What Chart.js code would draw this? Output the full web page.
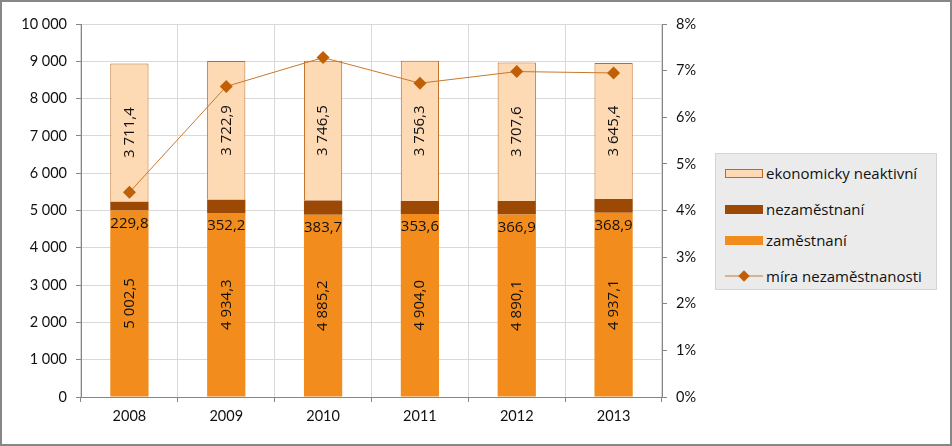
<!DOCTYPE html>
<html>
<head>
<meta charset="utf-8">
<script src="https://cdn.jsdelivr.net/npm/chart.js@4"></script>
<style>
  body { margin: 0; background: #fff; }
  #wrap { position: relative; width: 952px; height: 446px; }
  #legend {
    position: absolute; left: 715px; top: 153px; width: 222px; height: 137px;
    background: #ebebeb; border: 1px solid #d4d4d4; box-sizing: border-box;
    font-family: "Open Sans", Lato, sans-serif; font-size: 15px; color: #111;
  }
  .row { position: absolute; left: 9px; height: 20px; display: flex; align-items: center; }
  .sw { width: 38px; height: 9px; margin-right: 3px; box-sizing: border-box; }
</style>
</head>
<body>
<div id="wrap">
  <canvas id="c" width="952" height="446"></canvas>
  <div id="legend"></div>
</div>
<script>
const years = ['2008', '2009', '2010', '2011', '2012', '2013'];
const zamestnani = [5002.5, 4934.3, 4885.2, 4904.0, 4890.1, 4937.1];
const nezamestnani = [229.8, 352.2, 383.7, 353.6, 366.9, 368.9];
const neaktivni = [3711.4, 3722.9, 3746.5, 3756.3, 3707.6, 3645.4];
const miraNezam = [4.39, 6.66, 7.28, 6.73, 6.98, 6.95];

const FONT = 'Lato, "Open Sans", sans-serif';
const LABEL_FONT = '"Open Sans", Lato, sans-serif';

function fmt(v) {
    const parts = v.toFixed(1).split('.');
    const whole = parts[0].replace(/\B(?=(\d{3})+(?!\d))/g, ' ');
    return whole + ',' + parts[1];
}

const labelPlugin = {
    id: 'barLabels',
    afterDatasetsDraw(chart) {
        const ctx = chart.ctx;
        ctx.save();
        ctx.fillStyle = '#111';
        ctx.font = '15px ' + LABEL_FONT;
        ctx.textAlign = 'center';
        ctx.textBaseline = 'middle';
        [0, 1, 2].forEach(di => {
            const meta = chart.getDatasetMeta(di);
            const data = chart.data.datasets[di].data;
            meta.data.forEach((bar, i) => {
                const top = Math.min(bar.y, bar.base);
                const bottom = Math.max(bar.y, bar.base);
                const txt = fmt(data[i]);
                if (di === 1) {
                    ctx.fillText(txt, bar.x, bottom + 13);
                } else {
                    ctx.save();
                    ctx.translate(bar.x, (top + bottom) / 2);
                    ctx.rotate(-Math.PI / 2);
                    ctx.fillText(txt, 0, 0);
                    ctx.restore();
                }
            });
        });
        ctx.restore();
    }
};

const framePlugin = {
    id: 'frame',
    afterDraw(chart) {
        const ctx = chart.ctx;
        ctx.save();
        ctx.strokeStyle = '#878787';
        ctx.lineWidth = 2;
        ctx.strokeRect(1, 1, chart.width - 2, chart.height - 2);
        ctx.restore();
    }
};

new Chart(document.getElementById('c'), {
    type: 'bar',
    data: {
        labels: years,
        datasets: [
            { label: 'zaměstnaní', data: zamestnani, backgroundColor: '#f28c1c', borderWidth: 0, yAxisID: 'y', order: 1 },
            { label: 'nezaměstnaní', data: nezamestnani, backgroundColor: '#9c4906', borderWidth: 0, yAxisID: 'y', order: 1 },
            { label: 'ekonomicky neaktivní', data: neaktivni, backgroundColor: '#fdd9b4', borderColor: '#c0691c', borderWidth: 1, yAxisID: 'y', order: 1 },
            {
                type: 'line', label: 'míra nezaměstnanosti', data: miraNezam, yAxisID: 'y1', order: 0,
                borderColor: '#c8782e', borderWidth: 1, backgroundColor: '#c05f06',
                pointStyle: 'rectRot', pointRadius: 6.5, pointBorderWidth: 0, pointBackgroundColor: '#c05f06'
            }
        ]
    },
    options: {
        responsive: false,
        animation: false,
        layout: { padding: { top: 24, left: 0, right: 0, bottom: 0 } },
        datasets: { bar: { barPercentage: 0.395, categoryPercentage: 1 } },
        plugins: { legend: { display: false }, tooltip: { enabled: false } },
        scales: {
            x: {
                stacked: true,
                grid: { color: '#d9d9d9', offset: true, tickLength: 5, tickColor: '#868686' },
                border: { color: '#868686' },
                ticks: { color: '#111', font: { family: FONT, size: 14.5 }, padding: 6 },
                afterFit(s) { s.height = 49; }
            },
            y: {
                stacked: true, min: 0, max: 10000,
                grid: { color: '#d9d9d9', tickLength: 5, tickColor: '#868686' },
                border: { color: '#868686' },
                ticks: {
                    stepSize: 1000, color: '#111', font: { family: FONT, size: 14.5 }, padding: 9,
                    callback: v => String(v).replace(/\B(?=(\d{3})+(?!\d))/g, ' ')
                },
                afterFit(s) { s.width = 81; }
            },
            y1: {
                position: 'right', min: 0, max: 8,
                grid: { drawOnChartArea: false, tickLength: 5, tickColor: '#868686' },
                border: { color: '#868686' },
                ticks: { stepSize: 1, color: '#111', font: { family: FONT, size: 14.5 }, padding: 9, callback: v => v + '%' },
                afterFit(s) { s.width = 290; }
            }
        }
    },
    plugins: [labelPlugin, framePlugin]
});

const legendItems = [
    { text: 'ekonomicky neaktivní', y: 9, bg: '#fdd9b4', border: '1px solid #c0691c' },
    { text: 'nezaměstnaní', y: 45, bg: '#9c4906', border: 'none' },
    { text: 'zaměstnaní', y: 76, bg: '#f28c1c', border: 'none' },
    { text: 'míra nezaměstnanosti', y: 112, line: true }
];
const legend = document.getElementById('legend');
legendItems.forEach(it => {
    const row = document.createElement('div');
    row.className = 'row';
    row.style.top = it.y + 'px';
    let sw;
    if (it.line) {
        sw = '<svg width="38" height="12" style="margin-right:3px"><line x1="0" y1="6" x2="38" y2="6" stroke="#c8782e" stroke-width="1"/><rect x="15" y="2" width="8" height="8" fill="#c05f06" transform="rotate(45 19 6)"/></svg>';
    } else {
        sw = `<div class="sw" style="background:${it.bg};border:${it.border}"></div>`;
    }
    row.innerHTML = sw + '<span>' + it.text + '</span>';
    legend.appendChild(row);
});
</script>
</body>
</html>
